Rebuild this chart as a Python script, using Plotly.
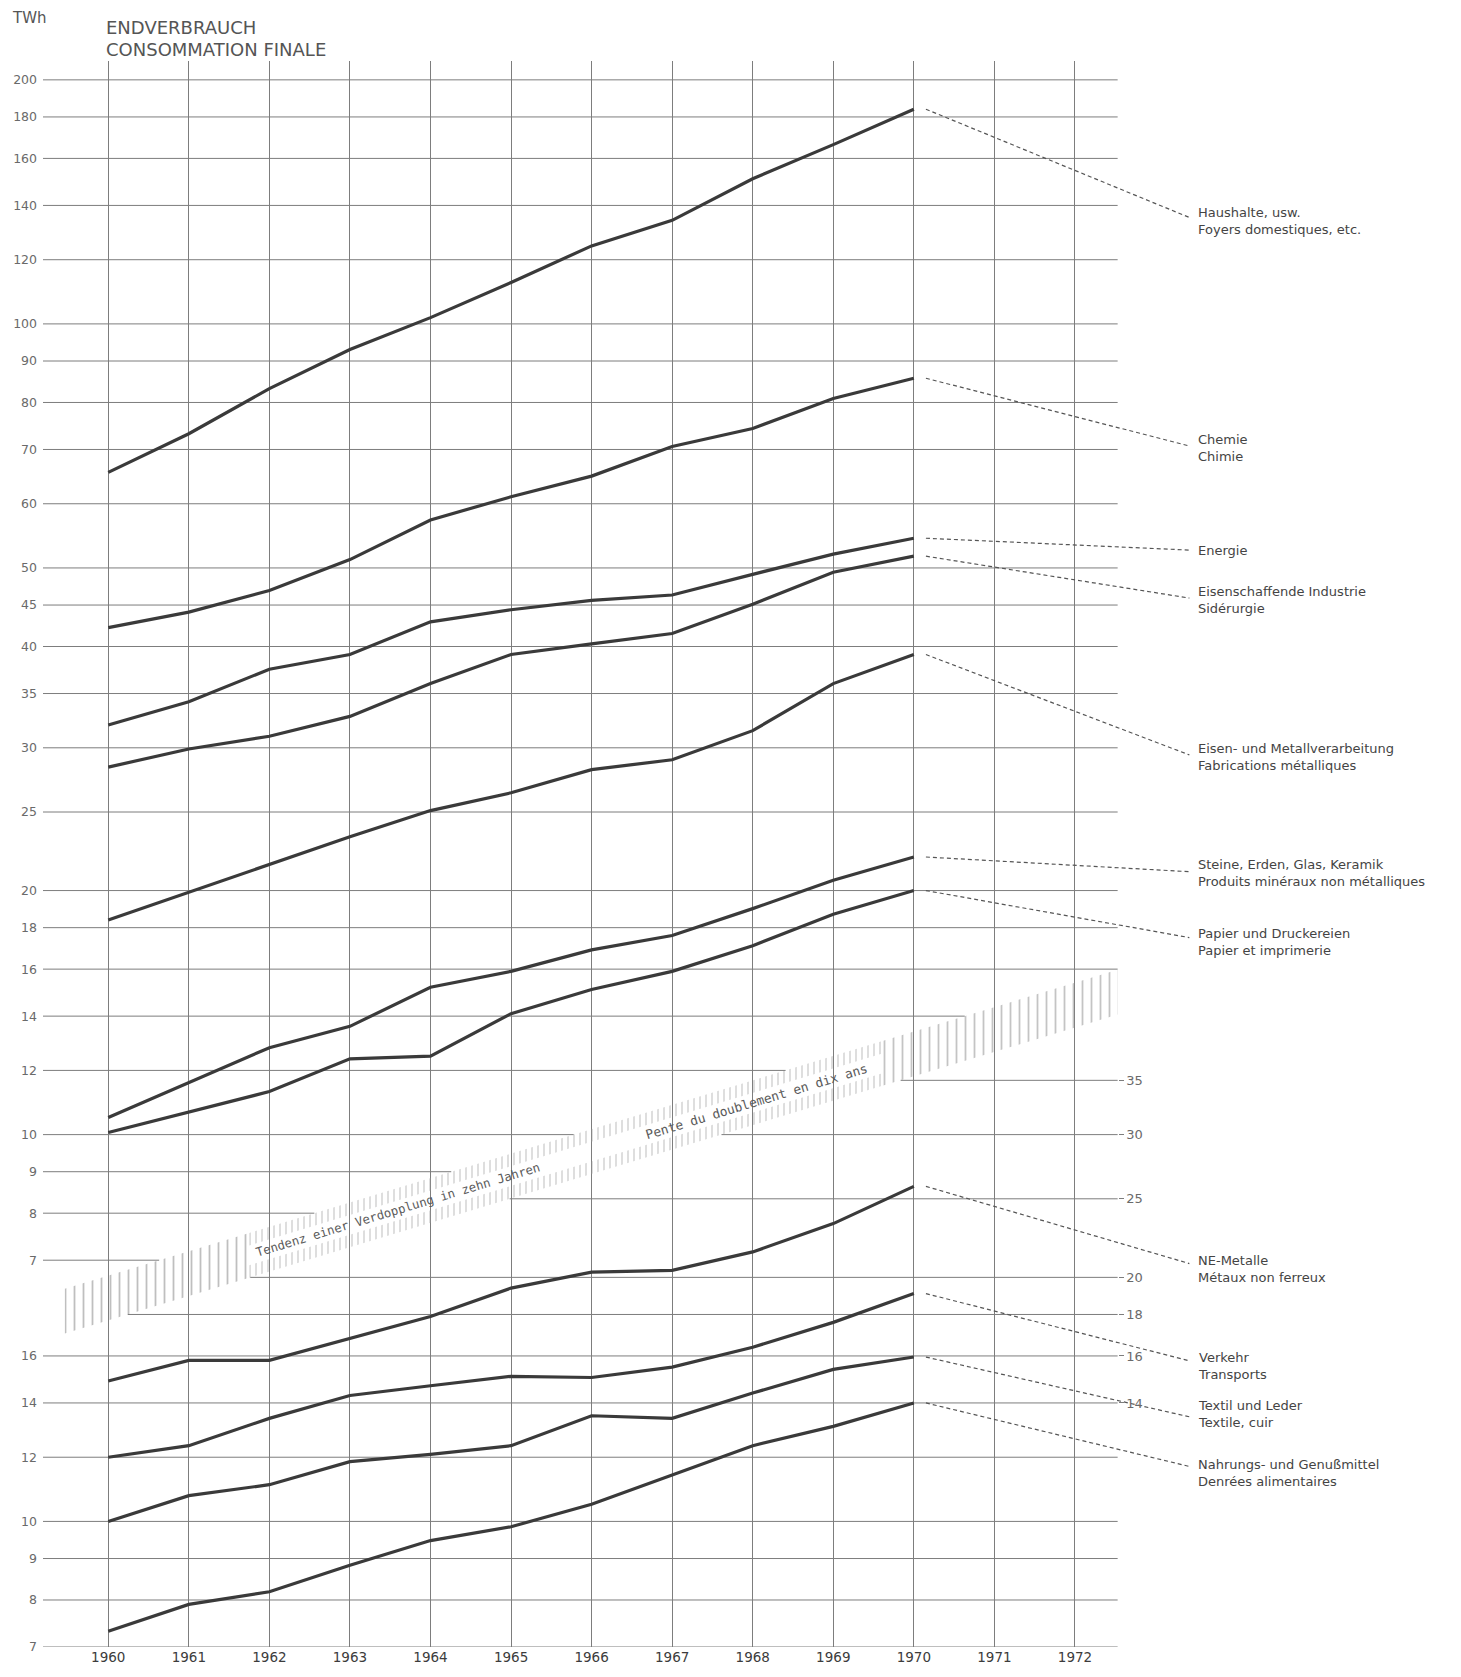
import math

import plotly.graph_objects as go

# --- data (TWh) ---------------------------------------------------------
years = list(range(1960, 1971))
year_ticks = list(range(1960, 1973))

# upper scale
haushalte = [65.6, 73.2, 83.2, 93.0, 101.8, 112.5, 124.8, 134.2, 151.0, 166.4, 184.0]
chemie = [42.2, 44.1, 46.9, 51.2, 57.3, 61.2, 64.9, 70.6, 74.3, 80.9, 85.7]
energie = [32.0, 34.2, 37.5, 39.1, 42.9, 44.4, 45.6, 46.3, 49.1, 52.0, 54.4]
eisenschaffende = [28.4, 29.9, 31.0, 32.8, 36.0, 39.1, 40.3, 41.5, 45.1, 49.4, 51.7]
metallverarbeitung = [18.4, 19.9, 21.5, 23.3, 25.1, 26.4, 28.2, 29.0, 31.5, 36.0, 39.1]
steine_erden = [10.5, 11.6, 12.8, 13.6, 15.2, 15.9, 16.9, 17.6, 19.0, 20.6, 22.0]
papier = [10.06, 10.65, 11.3, 12.4, 12.5, 14.1, 15.1, 15.9, 17.1, 18.7, 20.0]

# lower scale
ne_metalle = [14.9, 15.8, 15.8, 16.8, 17.9, 19.4, 20.3, 20.4, 21.5, 23.3, 25.9]
verkehr = [12.0, 12.4, 13.4, 14.3, 14.7, 15.1, 15.05, 15.5, 16.4, 17.6, 19.1]
textil = [10.0, 10.76, 11.1, 11.85, 12.1, 12.4, 13.5, 13.4, 14.4, 15.4, 15.95]
nahrung = [7.32, 7.9, 8.19, 8.83, 9.47, 9.85, 10.5, 11.4, 12.4, 13.1, 14.0]

upper_ticks = [200, 180, 160, 140, 120, 100, 90, 80, 70, 60, 50, 45, 40, 35, 30,
               25, 20, 18, 16, 14, 12, 10, 9, 8, 7]
lower_left_ticks = [16, 14, 12, 10, 9, 8, 7]
lower_right_ticks = [35, 30, 25, 20, 18, 16, 14]

upper_labels = [
    "Haushalte, usw.<br>Foyers domestiques, etc.",
    "Chemie<br>Chimie",
    "Energie",
    "Eisenschaffende Industrie<br>Sidérurgie",
    "Eisen- und Metallverarbeitung<br>Fabrications métalliques",
    "Steine, Erden, Glas, Keramik<br>Produits minéraux non métalliques",
    "Papier und Druckereien<br>Papier et imprimerie",
]
lower_labels = [
    "NE-Metalle<br>Métaux non ferreux",
    "Verkehr<br>Transports",
    "Textil und Leder<br>Textile, cuir",
    "Nahrungs- und Genußmittel<br>Denrées alimentaires",
]
upper_series = [haushalte, chemie, energie, eisenschaffende, metallverarbeitung, steine_erden, papier]
lower_series = [ne_metalle, verkehr, textil, nahrung]

# where the label texts / leader ends sit (axis units)
upper_label_y = [134.0, 70.3, 52.6, 45.6, 29.2, 21.0, 17.3]
upper_leader_y = [135.3, 70.7, 52.6, 45.9, 29.4, 21.1, 17.5]
lower_label_y = [20.5, 15.56, 13.55, 11.48]
lower_leader_y = [20.8, 15.78, 13.46, 11.69]

# --- geometry --------------------------------------------------------------
W, H = 1461, 1677
M_L, M_R, M_T, M_B = 43, 5, 61, 30
X_RANGE = [1959.19, 1976.73]
GRID_RIGHT = 1972.53
SHIFT = 3.0  # lower scale is drawn 3x lower than upper scale
Y_RANGE = [math.log10(7 / SHIFT), math.log10(211)]
Y2_RANGE = [r + math.log10(SHIFT) for r in Y_RANGE]

# doubling-in-ten-years band (upper units)
DOUBLING = 10
BAND_START, BAND_END = 1959.46, 1972.53
BAND_LOW_1960, BAND_HIGH_1960 = 5.90, 6.70
TEXT_GAP = (1961.75, 1969.6)

LINE_COL = "#3a3a3a"
GRID_COL = "#7d7d7d"
TICK_FONT = dict(family="DejaVu Sans", size=12.5, color="#6a6a6a")


def band(x, base):
    return base * 2 ** ((x - 1960) / DOUBLING)


fig = go.Figure()

# grid lines of the two scales, cut where they meet the trend band
gx, gy = [], []
for v in upper_ticks:
    xe = min(GRID_RIGHT, 1960 + DOUBLING * math.log2(v / BAND_HIGH_1960))
    gx += [X_RANGE[0], xe, None]
    gy += [v, v, None]
fig.add_trace(go.Scatter(x=gx, y=gy, mode="lines", line=dict(color=GRID_COL, width=1),
                         hoverinfo="skip"))

lower_grid = sorted(set(lower_left_ticks + lower_right_ticks))
gx, gy = [], []
for w in lower_grid:
    xs = max(X_RANGE[0], 1960 + DOUBLING * math.log2(w / (SHIFT * BAND_LOW_1960)))
    if xs < GRID_RIGHT:
        gx += [xs, GRID_RIGHT, None]
        gy += [w, w, None]
fig.add_trace(go.Scatter(x=gx, y=gy, mode="lines", yaxis="y2",
                         line=dict(color=GRID_COL, width=1), hoverinfo="skip"))
# keeps the right-hand scale drawn
fig.add_trace(go.Scatter(x=[GRID_RIGHT], y=[lower_right_ticks[0]], yaxis="y3", mode="markers",
                         marker=dict(opacity=0), hoverinfo="skip"))


# hatched band
def band_patch(x0, x1, lo_f, hi_f, size, solidity, col):
    lo = [band(x0, BAND_LOW_1960) * lo_f, band(x1, BAND_LOW_1960) * lo_f]
    hi = [band(x1, BAND_HIGH_1960) * hi_f, band(x0, BAND_HIGH_1960) * hi_f]
    fig.add_trace(go.Scatter(
        x=[x0, x1, x1, x0, x0], y=[lo[0], lo[1], hi[0], hi[1], lo[0]],
        mode="none", fill="toself", fillcolor="rgba(0,0,0,0)", hoverinfo="skip",
        fillpattern=dict(shape="|", fgcolor=col, bgcolor="rgba(0,0,0,0)",
                         size=size, solidity=solidity)))


thick = BAND_HIGH_1960 / BAND_LOW_1960
strip = thick ** 0.28
band_patch(BAND_START, TEXT_GAP[0], 1, 1, 9, 0.2, "#7f7f7f")
band_patch(TEXT_GAP[1], BAND_END, 1, 1, 9, 0.2, "#8a8a8a")
band_patch(TEXT_GAP[0], TEXT_GAP[1], 1, 1 / thick * strip, 6, 0.22, "#9a9a9a")
band_patch(TEXT_GAP[0], TEXT_GAP[1], thick / strip, 1, 6, 0.22, "#9a9a9a")

# series
for vals in upper_series:
    fig.add_trace(go.Scatter(x=years, y=vals, mode="lines",
                             line=dict(color=LINE_COL, width=3.2)))
for vals in lower_series:
    fig.add_trace(go.Scatter(x=years, y=vals, mode="lines", yaxis="y2",
                             line=dict(color=LINE_COL, width=3.2)))

# leaders + labels
LEAD_X0, LEAD_X1, LABEL_X = 1970.15, 1973.42, 1973.5
annotations = []
for vals, text, ly, ld, ax in (
        [(s, t, a, b, "y") for s, t, a, b in zip(upper_series, upper_labels, upper_label_y, upper_leader_y)]
        + [(s, t, a, b, "y2") for s, t, a, b in zip(lower_series, lower_labels, lower_label_y, lower_leader_y)]):
    fig.add_trace(go.Scatter(x=[LEAD_X0, LEAD_X1], y=[vals[-1], ld], mode="lines", yaxis=ax,
                             line=dict(color="#555", width=1.2, dash="4px,3px")))
    annotations.append(dict(x=LABEL_X, y=math.log10(ly), xref="x", yref=ax, text=text,
                            showarrow=False, xanchor="left", yanchor="middle", align="left",
                            font=dict(family="DejaVu Sans", size=13, color="#444")))

# band captions
plot_w = W - M_L - M_R
plot_h = H - M_T - M_B
slope = (math.log10(2) / DOUBLING) * (plot_h / (Y_RANGE[1] - Y_RANGE[0])) / (plot_w / (X_RANGE[1] - X_RANGE[0]))
angle = math.degrees(math.atan(slope))
for x, text, size in ((1963.6, "Tendenz einer Verdopplung in zehn Jahren", 12.3),
                      (1968.05, "Pente du doublement en dix ans", 12.8)):
    mid = math.sqrt(band(x, BAND_LOW_1960) * band(x, BAND_HIGH_1960))
    annotations.append(dict(x=x, y=math.log10(mid), xref="x", yref="y", text=text,
                            showarrow=False, textangle=-angle,
                            font=dict(family="DejaVu Sans Mono", size=size, color="#5a5a5a")))


def px(x):
    return (x - M_L) / plot_w


def py(y):
    return (H - M_B - y) / plot_h


annotations += [
    dict(x=px(10), y=py(18), xref="paper", yref="paper", text="TWh", showarrow=False,
         xanchor="left", yanchor="middle", font=dict(family="DejaVu Sans", size=15, color="#555")),
    dict(x=px(104), y=py(27.5), xref="paper", yref="paper", text="ENDVERBRAUCH", showarrow=False,
         xanchor="left", yanchor="middle", font=dict(family="DejaVu Sans", size=18, color="#555")),
    dict(x=px(104), y=py(49.5), xref="paper", yref="paper", text="CONSOMMATION FINALE", showarrow=False,
         xanchor="left", yanchor="middle", font=dict(family="DejaVu Sans", size=18, color="#555")),
]

fig.update_layout(
    width=W, height=H,
    margin=dict(l=M_L, r=M_R, t=M_T, b=M_B),
    plot_bgcolor="white", paper_bgcolor="white",
    showlegend=False,
    annotations=annotations,
    xaxis=dict(range=X_RANGE, tickvals=year_ticks, ticktext=[str(y) for y in year_ticks],
               showgrid=True, gridcolor=GRID_COL, gridwidth=1, zeroline=False, showline=False,
               ticks="", tickfont=dict(family="DejaVu Sans", size=13.5, color="#3c3c3c")),
    yaxis=dict(type="log", range=Y_RANGE, tickvals=upper_ticks, ticktext=[str(v) for v in upper_ticks],
               showgrid=False, zeroline=False, showline=False, ticks="", tickfont=TICK_FONT,
               ticklabelstandoff=5),
    yaxis2=dict(type="log", range=Y2_RANGE, overlaying="y", side="left", anchor="x",
                tickvals=lower_left_ticks, ticktext=[str(v) for v in lower_left_ticks],
                showgrid=False, zeroline=False, showline=False, ticks="", tickfont=TICK_FONT,
                ticklabelstandoff=5),
    yaxis3=dict(type="log", range=Y2_RANGE, overlaying="y", side="right", anchor="free",
                position=(GRID_RIGHT - X_RANGE[0]) / (X_RANGE[1] - X_RANGE[0]),
                tickvals=lower_right_ticks, ticktext=[str(v) for v in lower_right_ticks],
                showgrid=False, zeroline=False, showline=False, ticks="outside", ticklen=5,
                tickcolor=GRID_COL, tickfont=dict(family="DejaVu Sans", size=13, color="#6a6a6a")),
)

fig.write_html("out.html", config={"displayModeBar": False},
               post_script="document.body.style.margin = '0';")
